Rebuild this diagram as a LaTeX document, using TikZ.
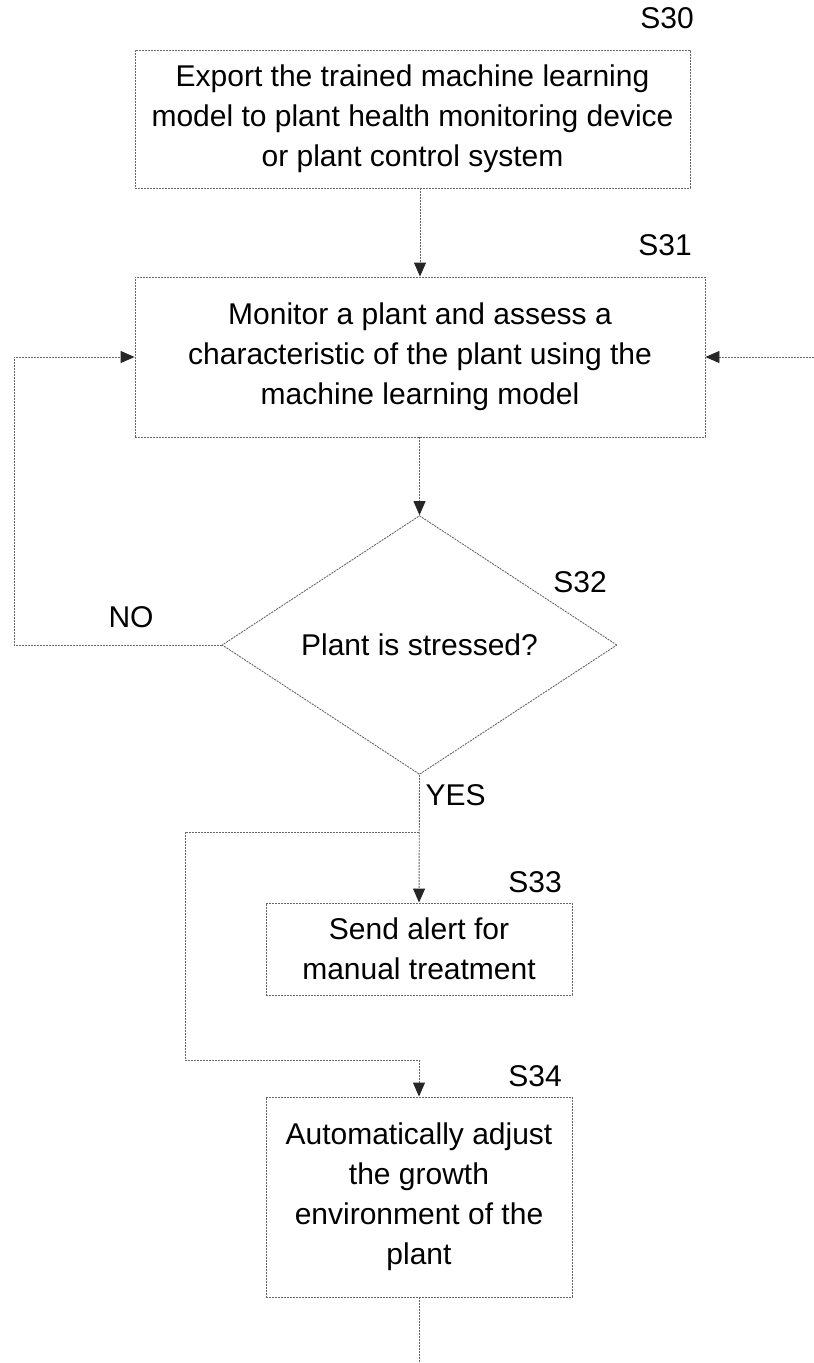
\documentclass[tikz,border=0pt]{standalone}
\usepackage{fontspec}
\setmainfont{Liberation Sans}
\usetikzlibrary{arrows.meta,shapes.geometric}

\begin{document}
\begin{tikzpicture}[x=1pt, y=-1pt,
		line/.style={line width=0.9pt, draw=black!60, dash pattern=on 2pt off 1pt},
		link/.style={line, -{Triangle[length=14pt, width=12pt, color=black!85]}},
		stepbox/.style={line, rectangle, align=center, inner sep=0pt, font=\fontsize{30}{40}\selectfont},
		decide/.style={line, diamond, align=center, inner sep=0pt, font=\fontsize{30}{40}\selectfont},
		tag/.style={font=\fontsize{30}{35}\selectfont}]
		%%%%% START %%%%%
		\useasboundingbox (0, 0) rectangle (814, 1363);
		
		\node[stepbox, minimum width=555pt, minimum height=138pt] (s30) at (412.5, 119) {Export the trained machine learning\\model to plant health monitoring device\\or plant control system};
		\node[tag] (t30) at (667, 18) {S30};
		
		\node[stepbox, minimum width=570pt, minimum height=160pt] (s31) at (420, 357) {Monitor a plant and assess a\\characteristic of the plant using the\\machine learning model};
		\node[tag] (t31) at (665, 245) {S31};
		
		\node[decide, minimum width=395pt, minimum height=234pt] (s32) at (419.5, 645) {Plant is stressed?};
		\node[tag] (t32) at (580, 582) {S32};
		
		\node[stepbox, minimum width=306pt, minimum height=92pt] (s33) at (419, 949) {Send alert for\\manual treatment};
		\node[tag] (t33) at (535, 882) {S33};
		
		\node[stepbox, minimum width=306pt, minimum height=200pt] (s34) at (419, 1197) {Automatically adjust\\the growth\\environment of the\\plant};
		\node[tag] (t34) at (535, 1076) {S34};
		
		\coordinate (noleft) at (14, 645);
		\coordinate (rin) at (814, 357);
		\coordinate (split) at (419, 832);
		\coordinate (byp) at (185, 1060);
		\coordinate (out) at (419, 1363);
		
		\draw[link] (s31.north |- s30.south) -- (s31.north);
		\draw[link] (s31.south -| s32.north) -- (s32.north);
		\draw[link] (s32.west) -- (noleft) |- (s31.west);
		\draw[link] (rin) -- (s31.east);
		\draw[link] (s32.south) -- (s33.north);
		\draw[link] (split) -| (byp) -| (s34.north);
		\draw[line] (s34.south) -- (out);
		
		\node[tag] (no) at (131, 617) {NO};
		\node[tag, anchor=west] (yes) at (422, 795) {YES};
		%%%%% END %%%%%
	\end{tikzpicture}
\end{document}
